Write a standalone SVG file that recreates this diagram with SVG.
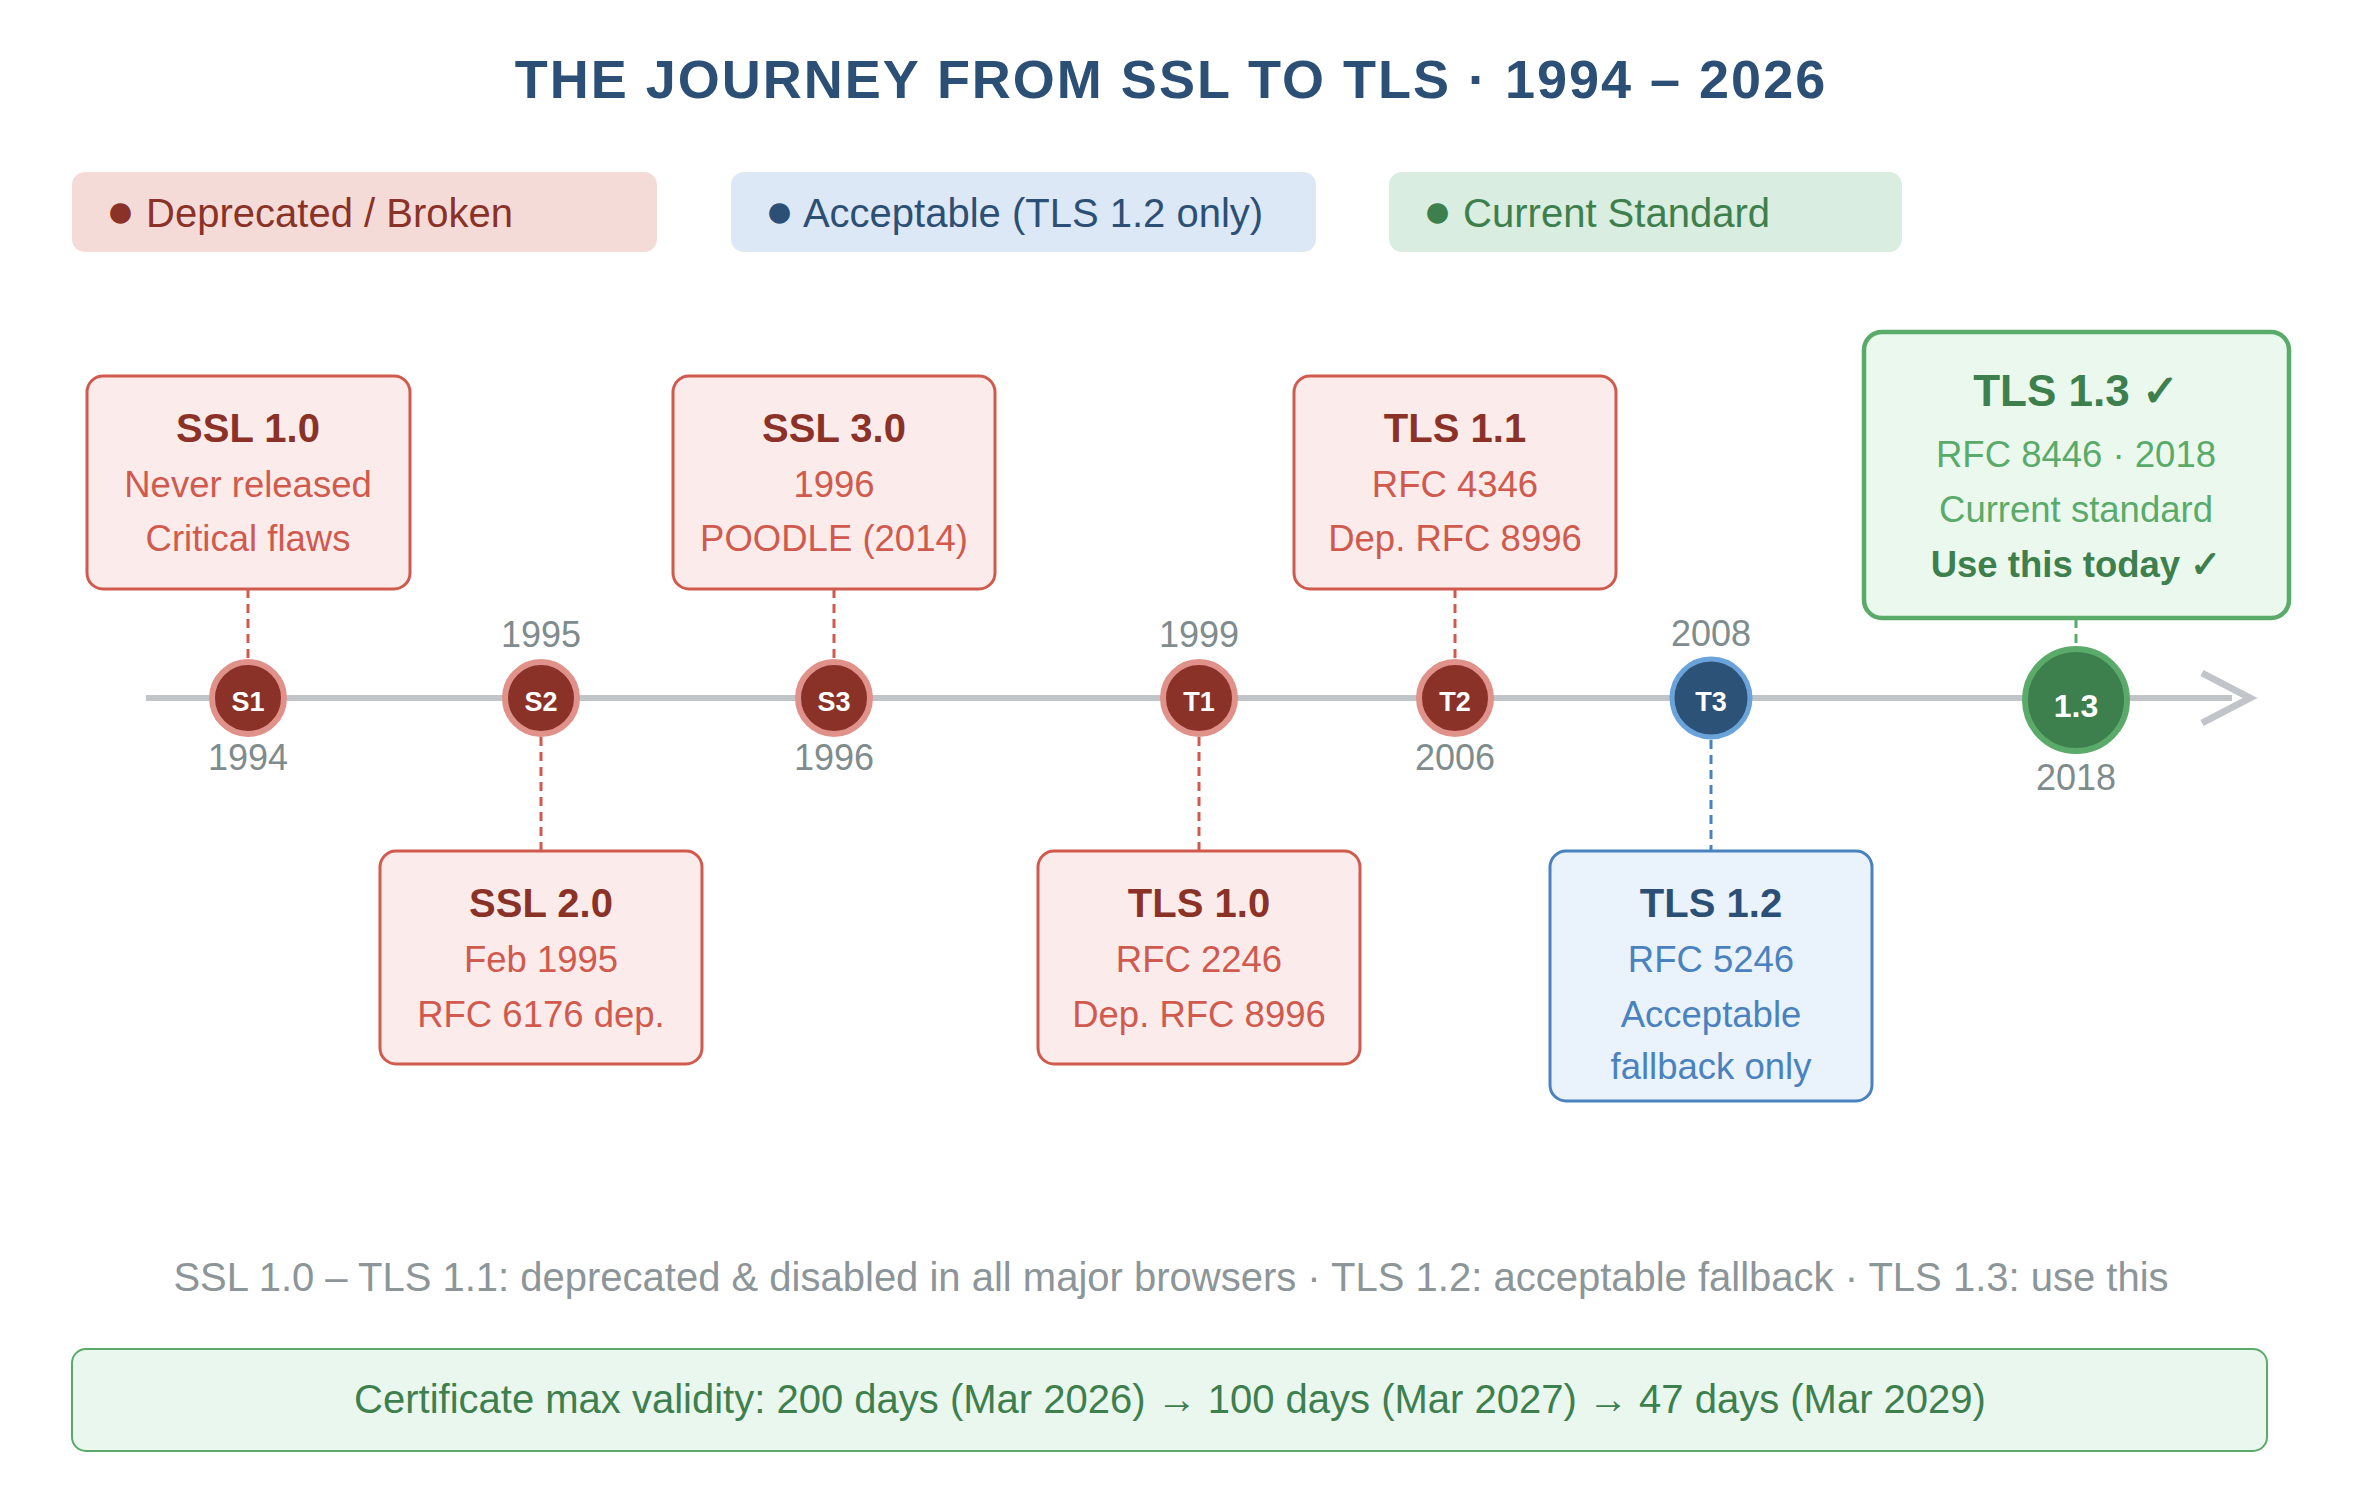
<svg xmlns="http://www.w3.org/2000/svg" width="2364" height="1494" viewBox="0 0 2364 1494">
<defs>
<style>
text{font-family:"Liberation Sans",Arial,Helvetica,sans-serif;text-anchor:middle}
.title{font-size:54px;font-weight:bold;fill:#2c5075;letter-spacing:2px}
.leg{font-size:40px;text-anchor:start}
.bul{font-size:48px}
.box-r{fill:#fbeceb;stroke:#d05a4e;stroke-width:3}
.box-b{fill:#eaf3fb;stroke:#4a82bf;stroke-width:3}
.box-g{fill:#ebf8ee;stroke:#5aab6a;stroke-width:4.5}
.t-r{font-size:40px;font-weight:bold;fill:#8b3228}
.l-r{font-size:36.5px;fill:#d05a4e}
.t-b{font-size:40px;font-weight:bold;fill:#2c5075}
.l-b{font-size:36.5px;fill:#4a82bf}
.t-g{font-size:44px;font-weight:bold;fill:#3d7f4d}
.l-g{font-size:36.5px;fill:#5aab6a}
.u-g{font-size:36.5px;font-weight:bold;fill:#3d7f4d}
.c-r{fill:#8b3228;stroke:#e0928a;stroke-width:6}
.c-b{fill:#2c5278;stroke:#6aa3da;stroke-width:5}
.c-g{fill:#3d7f4d;stroke:#5aab6a;stroke-width:6}
.cl{font-size:27px;font-weight:bold;fill:#ffffff}
.yr{font-size:36px;fill:#7f8c8d}
.dash-r{stroke:#d05a4e;stroke-width:3;stroke-dasharray:9 6;fill:none}
.dash-b{stroke:#4a82bf;stroke-width:3;stroke-dasharray:9 6;fill:none}
.dash-g{stroke:#5aab6a;stroke-width:3;stroke-dasharray:9 6;fill:none}
</style>
</defs>
<rect width="2364" height="1494" fill="#ffffff"/>
<text class="title" x="1171" y="98">THE JOURNEY FROM SSL TO TLS · 1994 – 2026</text>

<g id="legend">
<g id="legend-deprecated">
<rect x="72" y="172" width="585" height="80" rx="13" fill="#f5dbd8"/>
<text class="leg" x="106" y="227" fill="#8b3228"><tspan class="bul">●</tspan> Deprecated / Broken</text>
</g>
<g id="legend-acceptable">
<rect x="731" y="172" width="585" height="80" rx="13" fill="#dce8f5"/>
<text class="leg" x="765" y="227" fill="#2c5075"><tspan class="bul">●</tspan> Acceptable (TLS 1.2 only)</text>
</g>
<g id="legend-current">
<rect x="1389" y="172" width="513" height="80" rx="13" fill="#d9ede0"/>
<text class="leg" x="1423" y="227" fill="#3d7f4d"><tspan class="bul">●</tspan> Current Standard</text>
</g>
</g>

<g id="timeline">
<line x1="146" y1="698" x2="2232" y2="698" stroke="#c1c5c9" stroke-width="6"/>
<path d="M2202,673 L2250,698 L2202,723" fill="none" stroke="#c1c5c9" stroke-width="7"/>
</g>

<g id="connectors">
<line class="dash-r" x1="248" y1="589" x2="248" y2="659"/>
<line class="dash-r" x1="541" y1="737" x2="541" y2="851"/>
<line class="dash-r" x1="834" y1="589" x2="834" y2="659"/>
<line class="dash-r" x1="1199" y1="737" x2="1199" y2="851"/>
<line class="dash-r" x1="1455" y1="589" x2="1455" y2="659"/>
<line class="dash-b" x1="1711" y1="740" x2="1711" y2="851"/>
<line class="dash-g" x1="2076" y1="619" x2="2076" y2="643"/>
</g>

<g id="node-ssl10">
<rect class="box-r" x="87" y="376" width="323" height="213" rx="16"/>
<text class="t-r" x="248" y="442">SSL 1.0</text>
<text class="l-r" x="248" y="497">Never released</text>
<text class="l-r" x="248" y="551">Critical flaws</text>
<circle class="c-r" cx="248" cy="698" r="36"/>
<text class="cl" x="248" y="711">S1</text>
<text class="yr" x="248" y="770">1994</text>
</g>

<g id="node-ssl20">
<rect class="box-r" x="380" y="851" width="322" height="213" rx="16"/>
<text class="t-r" x="541" y="917">SSL 2.0</text>
<text class="l-r" x="541" y="972">Feb 1995</text>
<text class="l-r" x="541" y="1027">RFC 6176 dep.</text>
<circle class="c-r" cx="541" cy="698" r="36"/>
<text class="cl" x="541" y="711">S2</text>
<text class="yr" x="541" y="647">1995</text>
</g>

<g id="node-ssl30">
<rect class="box-r" x="673" y="376" width="322" height="213" rx="16"/>
<text class="t-r" x="834" y="442">SSL 3.0</text>
<text class="l-r" x="834" y="497">1996</text>
<text class="l-r" x="834" y="551">POODLE (2014)</text>
<circle class="c-r" cx="834" cy="698" r="36"/>
<text class="cl" x="834" y="711">S3</text>
<text class="yr" x="834" y="770">1996</text>
</g>

<g id="node-tls10">
<rect class="box-r" x="1038" y="851" width="322" height="213" rx="16"/>
<text class="t-r" x="1199" y="917">TLS 1.0</text>
<text class="l-r" x="1199" y="972">RFC 2246</text>
<text class="l-r" x="1199" y="1027">Dep. RFC 8996</text>
<circle class="c-r" cx="1199" cy="698" r="36"/>
<text class="cl" x="1199" y="711">T1</text>
<text class="yr" x="1199" y="647">1999</text>
</g>

<g id="node-tls11">
<rect class="box-r" x="1294" y="376" width="322" height="213" rx="16"/>
<text class="t-r" x="1455" y="442">TLS 1.1</text>
<text class="l-r" x="1455" y="497">RFC 4346</text>
<text class="l-r" x="1455" y="551">Dep. RFC 8996</text>
<circle class="c-r" cx="1455" cy="698" r="36"/>
<text class="cl" x="1455" y="711">T2</text>
<text class="yr" x="1455" y="770">2006</text>
</g>

<g id="node-tls12">
<rect class="box-b" x="1550" y="851" width="322" height="250" rx="16"/>
<text class="t-b" x="1711" y="917">TLS 1.2</text>
<text class="l-b" x="1711" y="972">RFC 5246</text>
<text class="l-b" x="1711" y="1027">Acceptable</text>
<text class="l-b" x="1711" y="1079">fallback only</text>
<circle class="c-b" cx="1711" cy="698" r="39"/>
<text class="cl" x="1711" y="711">T3</text>
<text class="yr" x="1711" y="646">2008</text>
</g>

<g id="node-tls13">
<rect class="box-g" x="1864" y="332" width="425" height="286" rx="18"/>
<text class="t-g" x="2076" y="406">TLS 1.3 ✓</text>
<text class="l-g" x="2076" y="467">RFC 8446 · 2018</text>
<text class="l-g" x="2076" y="522">Current standard</text>
<text class="u-g" x="2076" y="577">Use this today ✓</text>
<circle class="c-g" cx="2076" cy="700" r="51"/>
<text class="cl" x="2076" y="717" style="font-size:32px">1.3</text>
<text class="yr" x="2076" y="790">2018</text>
</g>

<g id="footer">
<text x="1171" y="1291" style="font-size:40px;fill:#8c9598">SSL 1.0 – TLS 1.1: deprecated &amp; disabled in all major browsers · TLS 1.2: acceptable fallback · TLS 1.3: use this</text>
<g id="cert-note">
<rect x="72" y="1349" width="2195" height="102" rx="14" fill="#eaf7ee" stroke="#5aab6a" stroke-width="2"/>
<text x="1170" y="1413" style="font-size:40px;fill:#3d7f4d">Certificate max validity: 200 days (Mar 2026) → 100 days (Mar 2027) → 47 days (Mar 2029)</text>
</g>
</g>
</svg>
